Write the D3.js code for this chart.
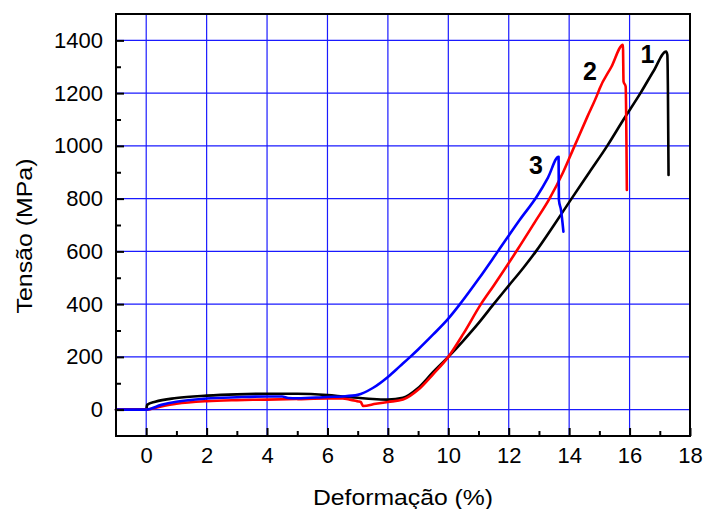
<!DOCTYPE html>
<html>
<head>
<meta charset="utf-8">
<script src="https://cdn.jsdelivr.net/npm/d3@7"></script>
<style>
  html, body { margin: 0; padding: 0; background: #fff; }
  svg { display: block; font-family: "Liberation Sans", Arial, sans-serif; }
</style>
</head>
<body>
<svg id="chart" width="704" height="509"></svg>
<script>
// ---- data (strain %, stress MPa) ----
const strain1 = [-1,0,0.03,0.3,1,2,3,4,5,6,6.5,7,7.5,8,8.5,9,9.5,10,10.5,11,11.5,12,12.5,12.9,13.5,14.08,14.67,15.26,15.8,16.36,16.8,17.21,17.25,17.27,17.29];
const stress1 = [0,0,18,30,44,53,58,60,60,55,50,45,40,38,45,82,143,200,262,328,400,470,540,600,700,800,900,1000,1100,1200,1285,1358,1345,1200,890];

const strain2 = [-1,0,0.5,1,2,3,4,5,6,6.5,6.74,7.02,7.1,7.18,7.6,8,8.5,9,9.5,10,10.5,11.08,11.5,12.28,12.86,13.35,13.8,14.18,14.6,14.95,15.0,15.4,15.78,15.8,15.87,15.91];
const stress2 = [0,0,12,22,32,36,38,40,42,42,38,31,29,14,22,29,38,75,135,200,288,400,470,605,710,800,900,1000,1110,1200,1215,1300,1383,1244,1225,833];

const strain3 = [-1,0,0.5,1,2,3,4,4.5,4.7,5,6,6.5,7,7.5,8,8.4,8.74,9,9.5,10,10.42,11,11.64,12.36,12.94,13.3,13.65,13.66,13.73,13.81];
const stress3 = [0,0,18,30,42,47,50,50,44,43,48,50,56,82,124,165,200,228,285,345,405,495,600,719,810,880,959,795,757,675];

const seriesNames = ["1","2","3"];
const seriesColors = ["#000000","#ff0000","#0000ff"];
const labelStrain = [16.59, 14.69, 12.9];
const labelStress = [1313, 1250, 892];

const xTicks = [0,2,4,6,8,10,12,14,16,18];
const xMinorTicks = [1,3,5,7,9,11,13,15,17];
const yTicks = [0,200,400,600,800,1000,1200,1400];
const yMinorTicks = [100,300,500,700,900,1100,1300];

const xLabel = "Deformação (%)";
const yLabel = "Tensão (MPa)";

// ---- layout ----
const svg = d3.select("#chart");
const x = d3.scaleLinear().domain([-1, 18]).range([116, 690]);
const y = d3.scaleLinear().domain([-100, 1500]).range([436, 14]);

// grid
const grid = svg.append("g");
grid.selectAll("line.gx").data(xTicks.filter(t => t < 18)).join("line")
  .attr("x1", d => x(d)).attr("x2", d => x(d))
  .attr("y1", y(-100)).attr("y2", y(1500))
  .attr("stroke", "#1a1aff").attr("stroke-width", 1.2);
grid.selectAll("line.gy").data(yTicks).join("line")
  .attr("x1", x(-1)).attr("x2", x(18))
  .attr("y1", d => y(d)).attr("y2", d => y(d))
  .attr("stroke", "#1a1aff").attr("stroke-width", 1.2);

// curves
const datasets = [
  d3.zip(strain1, stress1),
  d3.zip(strain2, stress2),
  d3.zip(strain3, stress3)
];
const line = d3.line().x(d => x(d[0])).y(d => y(d[1])).curve(d3.curveMonotoneX);
svg.append("g").selectAll("path").data(datasets).join("path")
  .attr("d", line)
  .attr("fill", "none")
  .attr("stroke", (d, i) => seriesColors[i])
  .attr("stroke-width", 2.6)
  .attr("stroke-linejoin", "round")
  .attr("stroke-linecap", "round");

// curve labels
svg.append("g").selectAll("text").data(seriesNames).join("text")
  .attr("x", (d, i) => x(labelStrain[i]))
  .attr("y", (d, i) => y(labelStress[i]))
  .attr("text-anchor", "middle")
  .attr("font-weight", "bold")
  .attr("font-size", 25)
  .attr("fill", "#000")
  .text(d => d);

// axes (ticks inward)
const xAxis = d3.axisBottom(x).tickValues(xTicks).tickSizeInner(-8).tickSizeOuter(0).tickPadding(11).tickFormat(d3.format("d"));
const gx = svg.append("g").attr("transform", `translate(0,${y(-100)})`).call(xAxis);
gx.select(".domain").remove();
gx.selectAll(".tick line").attr("stroke", "#000").attr("stroke-width", 2);
gx.selectAll(".tick text").attr("font-size", 22).attr("fill", "#000").attr("font-family", "Liberation Sans, Arial, sans-serif");
const gxm = svg.append("g").attr("transform", `translate(0,${y(-100)})`)
  .call(d3.axisBottom(x).tickValues(xMinorTicks).tickSizeInner(-5).tickSizeOuter(0).tickFormat(""));
gxm.select(".domain").remove();
gxm.selectAll(".tick line").attr("stroke", "#000").attr("stroke-width", 2);

const yAxis = d3.axisLeft(y).tickValues(yTicks).tickSizeInner(-8).tickSizeOuter(0).tickPadding(13).tickFormat(d3.format("d"));
const gy = svg.append("g").attr("transform", `translate(${x(-1)},0)`).call(yAxis);
gy.select(".domain").remove();
gy.selectAll(".tick line").attr("stroke", "#000").attr("stroke-width", 2);
gy.selectAll(".tick text").attr("font-size", 22).attr("fill", "#000").attr("font-family", "Liberation Sans, Arial, sans-serif");
const gym = svg.append("g").attr("transform", `translate(${x(-1)},0)`)
  .call(d3.axisLeft(y).tickValues(yMinorTicks).tickSizeInner(-5).tickSizeOuter(0).tickFormat(""));
gym.select(".domain").remove();
gym.selectAll(".tick line").attr("stroke", "#000").attr("stroke-width", 2);

// frame
svg.append("rect")
  .attr("x", x(-1)).attr("y", y(1500))
  .attr("width", x(18) - x(-1)).attr("height", y(-100) - y(1500))
  .attr("fill", "none").attr("stroke", "#000").attr("stroke-width", 2);

// axis titles
svg.append("text")
  .attr("x", 403)
  .attr("y", 505)
  .attr("text-anchor", "middle")
  .attr("font-size", 22)
  .attr("textLength", 180)
  .attr("lengthAdjust", "spacingAndGlyphs")
  .attr("fill", "#000")
  .text(xLabel);
svg.append("text")
  .attr("transform", `translate(32,236) rotate(-90)`)
  .attr("text-anchor", "middle")
  .attr("font-size", 22)
  .attr("textLength", 155)
  .attr("lengthAdjust", "spacingAndGlyphs")
  .attr("fill", "#000")
  .text(yLabel);
</script>
</body>
</html>
